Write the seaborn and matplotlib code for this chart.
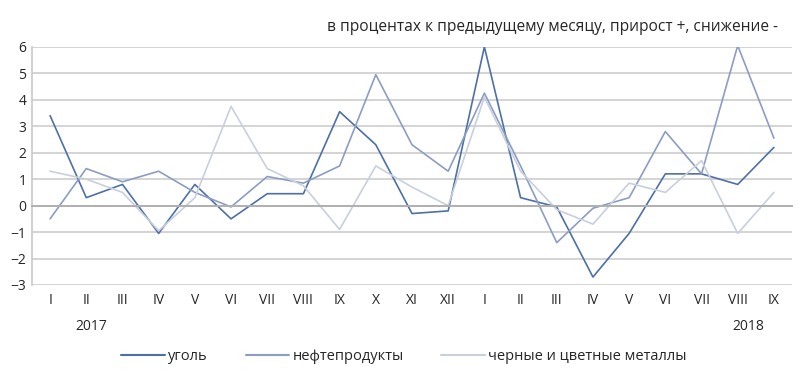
import matplotlib
matplotlib.use("Agg")
import matplotlib.pyplot as plt
import pandas as pd
import seaborn as sns

# monthly change, % to previous month (Jan 2017 - Sep 2018)
months = ["I", "II", "III", "IV", "V", "VI", "VII", "VIII", "IX", "X", "XI", "XII",
          "I", "II", "III", "IV", "V", "VI", "VII", "VIII", "IX"]
coal = [3.4, 0.3, 0.8, -1.05, 0.8, -0.5, 0.45, 0.45, 3.55, 2.3, -0.3, -0.2,
        6.0, 0.3, -0.05, -2.7, -1.05, 1.2, 1.2, 0.8, 2.2]
oil_products = [-0.5, 1.4, 0.9, 1.3, 0.5, -0.05, 1.1, 0.85, 1.5, 4.95, 2.3, 1.3,
                4.25, 1.5, -1.4, -0.1, 0.3, 2.8, 1.2, 6.05, 2.55]
metals = [1.3, 1.0, 0.5, -0.95, 0.3, 3.75, 1.4, 0.75, -0.9, 1.5, 0.7, 0.0,
          4.1, 1.3, -0.15, -0.7, 0.85, 0.5, 1.7, -1.05, 0.5]
years = ["2017", "2018"]
year_pos = [1.15, 19.3]

series_names = ["уголь", "нефтепродукты", "черные и цветные металлы"]
colors = ["#4d70a8", "#8c9dc3", "#c8cfdd"]

df = pd.DataFrame({
    "pos": list(range(len(months))) * 3,
    "value": coal + oil_products + metals,
    "series": [s for s in series_names for _ in months],
})

sns.set_style("white")
plt.rcParams["font.family"] = ["Open Sans", "DejaVu Sans"]

fig = plt.figure(figsize=(8, 3.81), dpi=100)
ax = fig.add_axes([0.04, 0.252, 0.95, 0.625])

for y in range(-3, 7):
    ax.axhline(y, color="#d4d4d4", lw=1.4, zorder=0)

sns.lineplot(data=df, x="pos", y="value", hue="series", palette=colors,
             hue_order=series_names, linewidth=1.2, ax=ax, legend=False)

ax.set_xlim(-0.5, len(months) - 0.5)
ax.set_ylim(-3, 6)
ax.set_yticks(range(-3, 7))
ax.tick_params(axis="y", length=0, labelsize=10, pad=4)
ax.set_xlabel("")
ax.set_ylabel("")

for side in ["top", "right"]:
    ax.spines[side].set_visible(False)
ax.spines["left"].set_color("#c8c8c8")
ax.spines["left"].set_linewidth(1.2)
ax.spines["bottom"].set_position(("data", 0))
ax.spines["bottom"].set_color("#b0b0b0")
ax.spines["bottom"].set_linewidth(1.4)

# boundary tick marks on the zero line
ax.set_xticks([i + 0.5 for i in range(len(months))])
ax.set_xticklabels([])
ax.tick_params(axis="x", length=5, width=1.2, color="#b0b0b0", direction="out")

# month labels along the bottom of the plot area
sec = ax.secondary_xaxis(location=0)
sec.set_xticks(range(len(months)))
sec.set_xticklabels(months, fontsize=10)
sec.tick_params(length=0, pad=6)
sec.spines["bottom"].set_visible(False)

for yr, p in zip(years, year_pos):
    ax.text(p, -0.175, yr, transform=ax.get_xaxis_transform(), ha="center",
            va="center", fontsize=10)

fig.text(0.972, 0.928, "в процентах к предыдущему месяцу, прирост +, снижение -",
         ha="right", va="center", fontsize=11.2)

handles = [plt.Line2D([], [], color=c, lw=1.5) for c in colors]
fig.legend(handles, series_names, loc="center", bbox_to_anchor=(0.505, 0.065),
           ncol=3, frameon=False, fontsize=10.5, handlelength=3.0,
           handletextpad=0.2, columnspacing=2.6)

fig.savefig("out.png", dpi=100)
